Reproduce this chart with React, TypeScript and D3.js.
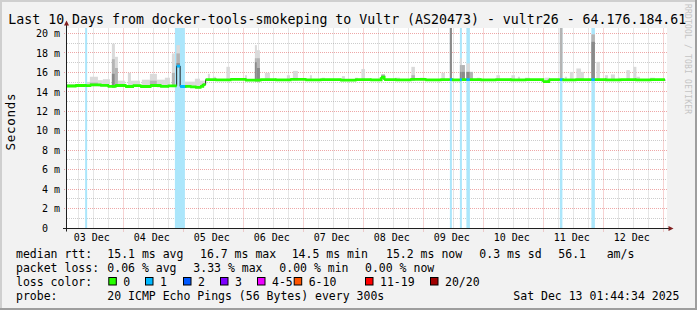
import React from 'react';
import * as d3 from 'd3';

const W = 697;
const H = 310;
const PL = 67, PR = 667, PT = 28.5, PB = 228.5;
const Y_MAX = 20.56;

const titleText = 'Last 10 Days from docker-tools-smokeping to Vultr (AS20473) - vultr26 - 64.176.184.61';
const yAxisTitle = 'Seconds';
const watermark = 'RRDTOOL / TOBI OETIKER';
const dayLabels = ['03 Dec', '04 Dec', '05 Dec', '06 Dec', '07 Dec', '08 Dec', '09 Dec', '10 Dec', '11 Dec', '12 Dec'];
const yTickValues = [0, 2, 4, 6, 8, 10, 12, 14, 16, 18, 20];
const yTickLabels = ['0  ', '2 m', '4 m', '6 m', '8 m', '10 m', '12 m', '14 m', '16 m', '18 m', '20 m'];

// time: hours since 03 Dec 00:00
const medianHours = [1.7, 5, 9, 10.9, 15, 18, 21, 25, 28, 31, 35, 39, 42, 45.6, 47, 49, 51, 53, 55, 56, 57.2, 61, 67, 73, 79, 85, 91, 97, 103, 111, 117, 123, 127.4, 128.6, 133, 139, 145, 151, 154.9, 155.7, 158.9, 159.7, 161.5, 162.9, 167, 173, 179, 185, 192.1, 194.5, 198.9, 199.9, 205, 211.5, 212.9, 217, 223, 229, 235, 240.9];
const medianMs = [14.65, 14.7, 14.68, 14.76, 14.72, 14.62, 14.7, 14.6, 14.68, 14.6, 14.7, 14.62, 14.66, 16.7, 14.6, 14.62, 14.55, 14.5, 14.62, 14.8, 15.3, 15.27, 15.32, 15.25, 15.3, 15.27, 15.32, 15.28, 15.3, 15.26, 15.3, 15.27, 15.55, 15.3, 15.28, 15.32, 15.27, 15.3, 15.3, 15.28, 15.3, 15.3, 15.3, 15.3, 15.27, 15.3, 15.28, 15.3, 15.1, 15.3, 15.3, 15.28, 15.3, 15.3, 15.3, 15.27, 15.3, 15.28, 15.3, 15.2];
const medianLoss = [0, 0, 0, 0, 0, 0, 0, 0, 0, 0, 0, 0, 0, 1, 1, 0, 0, 0, 0, 0, 0, 0, 0, 0, 0, 0, 0, 0, 0, 0, 0, 0, 0, 0, 0, 0, 0, 0, 1, 0, 1, 0, 1, 0, 0, 0, 0, 0, 0, 0, 1, 0, 0, 1, 0, 0, 0, 0, 0, 0];

const smokeFrom = [1.7, 9.7, 10.9, 14.1, 16.1, 19.7, 20.9, 22.1, 26.1, 27.3, 31.7, 34.9, 37.7, 40.9, 43.7, 45.5, 48.9, 52.9, 54.9, 58.1, 60.1, 65.5, 72.9, 76.9, 77.7, 80.9, 89.7, 92.1, 98.9, 103.7, 111.7, 116.9, 119.5, 127.5, 132.9, 139.5, 142.9, 151.5, 154.9, 158.9, 159.7, 161.5, 162.9, 165.7, 173.5, 179.5, 182.1, 184.9, 192.9, 198.9, 200.9, 202.9, 205.5, 207.3, 211.5, 213.5, 216.9, 219.3, 222.1, 225.5, 228.3, 229.5, 234.9];
const smokeTo = [6.1, 10.9, 14.1, 16.1, 18.9, 20.9, 22.1, 24.9, 27.3, 30.9, 34.9, 37.7, 40.9, 42.9, 44.9, 46.9, 52.9, 54.9, 56.9, 58.9, 61.3, 66.9, 73.7, 77.7, 78.9, 82.9, 90.9, 94.1, 99.7, 104.9, 112.9, 118.1, 120.9, 128.9, 134.9, 140.9, 144.9, 152.9, 155.7, 159.7, 160.9, 162.9, 164.1, 166.9, 174.9, 180.9, 182.9, 186.9, 194.9, 199.9, 201.7, 204.1, 207.3, 208.5, 212.9, 214.9, 218.1, 220.9, 222.9, 226.9, 229.5, 230.9, 236.9];
const smokeLight = [14.85, 15.07, 15.6, 15.25, 15.35, 19.0, 17.65, 15.2, 16.0, 15.2, 15.3, 15.9, 15.3, 15.5, 18.0, 18.85, 15.1, 15.4, 15.2, 15.9, 15.6, 16.62, 15.76, 18.85, 18.33, 16.0, 15.76, 16.2, 15.76, 15.5, 15.66, 15.5, 16.4, 15.84, 15.5, 16.62, 15.5, 16.0, 21, 17.5, 16.8, 16.97, 16.1, 15.5, 15.76, 15.76, 15.6, 15.5, 15.5, 21, 15.6, 16.1, 16.45, 16.1, 19.95, 17.13, 15.76, 15.84, 15.5, 16.28, 16.62, 15.6, 15.5];
const smokeMid = [0, 0, 15.0, 0, 0, 17.4, 16.5, 0, 0, 0, 0, 15.2, 0, 0, 16.0, 18.0, 0, 0, 0, 0, 0, 0, 0, 17.5, 17.5, 0, 0, 0, 0, 0, 0, 0, 0, 15.84, 0, 15.76, 0, 0, 21, 16.8, 16.8, 16.1, 16.1, 0, 0, 0, 0, 0, 0, 21, 0, 0, 0, 0, 19.95, 0, 0, 0, 0, 0, 0, 0, 0];
const smokeDark = [0, 0, 0, 0, 0, 15.9, 0, 0, 0, 0, 0, 0, 0, 0, 0, 17.0, 0, 0, 0, 0, 0, 0, 0, 17.1, 16.5, 0, 0, 0, 0, 0, 0, 0, 0, 15.7, 0, 0, 0, 0, 21, 16.1, 16.1, 16.1, 0, 0, 0, 0, 0, 0, 0, 0, 0, 0, 0, 0, 19.19, 0, 0, 0, 0, 0, 0, 0, 0];

const lossFrom = [9.0, 44.9, 154.9, 158.9, 161.5, 198.9, 211.5];
const lossTo = [9.8, 48.9, 155.7, 159.7, 162.9, 199.9, 212.9];

const lossColorLabels = ['0', '1', '2', '3', '4-5', '6-10', '11-19', '20/20'];
const lossColors = ['#26ff00', '#00b8ff', '#0059ff', '#7e00ff', '#ee00ff', '#ff5500', '#ff0000', '#a10000'];
const lossLabelX = [123.3, 160, 198, 235, 272, 308.7, 380, 445];

const legendRtt = ['15.1 ms avg', '16.7 ms max', '14.5 ms min', '15.2 ms now', '0.3 ms sd', '56.1', 'am/s'];
const legendRttX = [107.3, 200, 291.7, 386, 479.3, 558.3, 606.7];
const legendLoss = ['0.06 % avg', '3.33 % max', '0.00 % min', '0.00 % now'];
const legendLossX = [107.3, 193.3, 279.3, 365];
const probeText = '20 ICMP Echo Pings (56 Bytes) every 300s';
const dateText = 'Sat Dec 13 01:44:34 2025';

const T0 = Date.UTC(2025, 11, 3);
const tStart = T0 + (1 * 3600 + 44 * 60 + 34) * 1000;
const tEnd = tStart + 10 * 86400e3;

const MONO = 'DejaVu Sans Mono, monospace';

export default function App() {
  const x = d3.scaleUtc().domain([new Date(tStart), new Date(tEnd)]).range([PL, PR]);
  const hx = (h: number) => x(new Date(T0 + h * 3600e3));
  const y = d3.scaleLinear().domain([0, Y_MAX]).range([PB, PT]);

  const majorDays = d3.utcDay.range(new Date(tStart), new Date(tEnd));
  const minorHours = d3.utcHour.every(6)!.range(new Date(tStart), new Date(tEnd)).filter(d => d.getUTCHours() !== 0);
  const minorY = d3.range(1, 21).filter(v => v % 2 === 1);
  const majorY = yTickValues.filter(v => v > 0);

  const medianAt = (h: number) => {
    const i = Math.max(0, d3.bisectRight(medianHours, h) - 1);
    return medianMs[i];
  };

  const medPts: [number, number][] = medianHours.map((h, i) => [hx(h), y(medianMs[i])]);
  const blackLine = d3.line().curve(d3.curveStepAfter)(medPts) || '';

  const segs: { d: string; c: string }[] = [];
  for (let i = 0; i < medianHours.length - 1; i++) {
    const x0 = hx(medianHours[i]);
    const x1 = hx(medianHours[i + 1]);
    const y0 = y(medianMs[i]);
    const y1 = y(medianMs[i + 1]);
    let d = `M${x0},${y0}H${x1}`;
    if (Math.abs(medianMs[i + 1] - medianMs[i]) < 0.35 && i + 1 < medianHours.length - 1) d += `V${y1}`;
    segs.push({ d, c: lossColors[medianLoss[i]] });
  }

  const crisp = (v: number) => Math.round(v) + 0.5;

  return (
    <div style={{ position: 'absolute', left: 0, top: 0 }}>
      <svg width={W} height={H} style={{ display: 'block' }}>
        <defs>
          <clipPath id="plot">
            <rect x={PL} y={PT - 0.5} width={PR - PL} height={PB - PT + 0.5} />
          </clipPath>
        </defs>
        {/* background & 3D frame */}
        <rect x={0} y={0} width={W} height={H} fill="#f2f2f2" />
        <rect x={0} y={0} width={W} height={2} fill="#cfcfcf" />
        <rect x={0} y={0} width={2} height={H} fill="#cfcfcf" />
        <rect x={W - 2} y={0} width={2} height={H} fill="#9e9e9e" />
        <rect x={0} y={H - 2} width={W} height={2} fill="#9e9e9e" />
        {/* canvas */}
        <rect x={PL} y={PT - 0.5} width={PR - PL} height={PB - PT + 0.5} fill="#ffffff" />

        {/* grid */}
        <g strokeDasharray="1,1" strokeWidth={1} fill="none">
          {minorHours.map((d, i) => (
            <line key={'mv' + i} x1={crisp(x(d))} x2={crisp(x(d))} y1={PT} y2={PB} stroke="rgba(143,143,143,0.45)" />
          ))}
          {minorY.map(v => (
            <line key={'mh' + v} x1={PL} x2={PR} y1={crisp(y(v)) - 1} y2={crisp(y(v)) - 1} stroke="rgba(143,143,143,0.45)" />
          ))}
          {majorDays.map((d, i) => (
            <line key={'Mv' + i} x1={crisp(x(d))} x2={crisp(x(d))} y1={PT} y2={PB + 3} stroke="rgba(222,79,79,0.5)" />
          ))}
          {majorY.map(v => (
            <line key={'Mh' + v} x1={PL - 3} x2={PR} y1={crisp(y(v)) - 1} y2={crisp(y(v)) - 1} stroke="rgba(222,79,79,0.5)" />
          ))}
        </g>

        <g clipPath="url(#plot)">
          {/* loss bands */}
          {lossFrom.map((h, i) => (
            <rect key={'lb' + i} x={hx(h)} y={PT - 1} width={hx(lossTo[i]) - hx(h)} height={PB - PT + 1} fill="#abe6fb" />
          ))}
          {/* smoke */}
          {smokeFrom.map((h, i) => {
            const base = medianAt((h + smokeTo[i]) / 2) - 0.12;
            const x0 = hx(h);
            const w = hx(smokeTo[i]) - x0;
            const layers: [number, string][] = [
              [smokeLight[i], '#dadada'],
              [smokeMid[i], '#b4b4b4'],
              [smokeDark[i], '#8a8a8a'],
            ];
            return (
              <g key={'sm' + i}>
                {layers.filter(l => l[0] > 0).map((l, j) => (
                  <rect key={j} x={x0} y={y(l[0])} width={w} height={Math.max(0, y(base) - y(l[0]))} fill={l[1]} />
                ))}
              </g>
            );
          })}
          {/* median */}
          <path d={blackLine} fill="none" stroke="#202020" strokeWidth={1} />
          {segs.map((s, i) => (
            <path key={'seg' + i} d={s.d} fill="none" stroke={s.c} strokeWidth={2.8} />
          ))}
        </g>

        {/* axes */}
        <line x1={63} x2={669} y1={PB} y2={PB} stroke="#1f1f1f" strokeWidth={1} />
        <line x1={PL - 0.5} x2={PL - 0.5} y1={PB + 3} y2={25} stroke="#1f1f1f" strokeWidth={1} />
        <path d={`M${PL - 3},25.5L${PL - 0.5},20.5L${PL + 2},25.5Z`} fill="#801f1f" />
        <path d={`M668.5,${PB - 2.5}L673.5,${PB}L668.5,${PB + 2.5}Z`} fill="#801f1f" />

        {/* y tick labels */}
        <g fontFamily={MONO} fontSize={10} fill="#000">
          {yTickValues.map((v, i) => (
            <text key={'yl' + v} x={60} y={y(v) + 3.2} textAnchor="end" xmlSpace="preserve" style={{ whiteSpace: 'pre' }}>
              {yTickLabels[i]}
            </text>
          ))}
          {dayLabels.map((lab, i) => (
            <text key={'xl' + i} x={x(new Date(T0 + (i * 24 + 12) * 3600e3)) - 0.8} y={240.8} textAnchor="middle">
              {lab}
            </text>
          ))}
        </g>

        {/* title */}
        <text x={8.3} y={23.5} fontFamily={MONO} fontSize={13.25} fill="#000" textLength={678} lengthAdjust="spacing">
          {titleText}
        </text>
        {/* y axis title */}
        <text transform="translate(15,122) rotate(-90)" textAnchor="middle" fontFamily={MONO} fontSize={12.5} fill="#000" textLength={57}>
          {yAxisTitle}
        </text>
        {/* watermark */}
        <text transform="translate(684.5,4) rotate(90)" fontFamily={MONO} fontSize={8} fill="#c4c4c4" textLength={110}>
          {watermark}
        </text>

        {/* legend */}
        <g fontFamily={MONO} fontSize={11.5} fill="#000" xmlSpace="preserve" style={{ whiteSpace: 'pre' }}>
          <text x={16} y={257.5}>median rtt:</text>
          {legendRtt.map((t, i) => (
            <text key={'lr' + i} x={legendRttX[i]} y={257.5}>{t}</text>
          ))}
          <text x={16} y={271.5}>packet loss:</text>
          {legendLoss.map((t, i) => (
            <text key={'ll' + i} x={legendLossX[i]} y={271.5}>{t}</text>
          ))}
          <text x={16} y={285.5}>loss color:</text>
          {lossColorLabels.map((t, i) => (
            <g key={'lc' + i}>
              <rect x={lossLabelX[i] - 14.5} y={277.5} width={7.5} height={7.5} fill={lossColors[i]} stroke="#000" strokeWidth={1} />
              <text x={lossLabelX[i]} y={285.5}>{t}</text>
            </g>
          ))}
          <text x={16} y={299.5}>probe:</text>
          <text x={107.3} y={299.5}>{probeText}</text>
          <text x={513.3} y={299.5}>{dateText}</text>
        </g>
      </svg>
    </div>
  );
}
